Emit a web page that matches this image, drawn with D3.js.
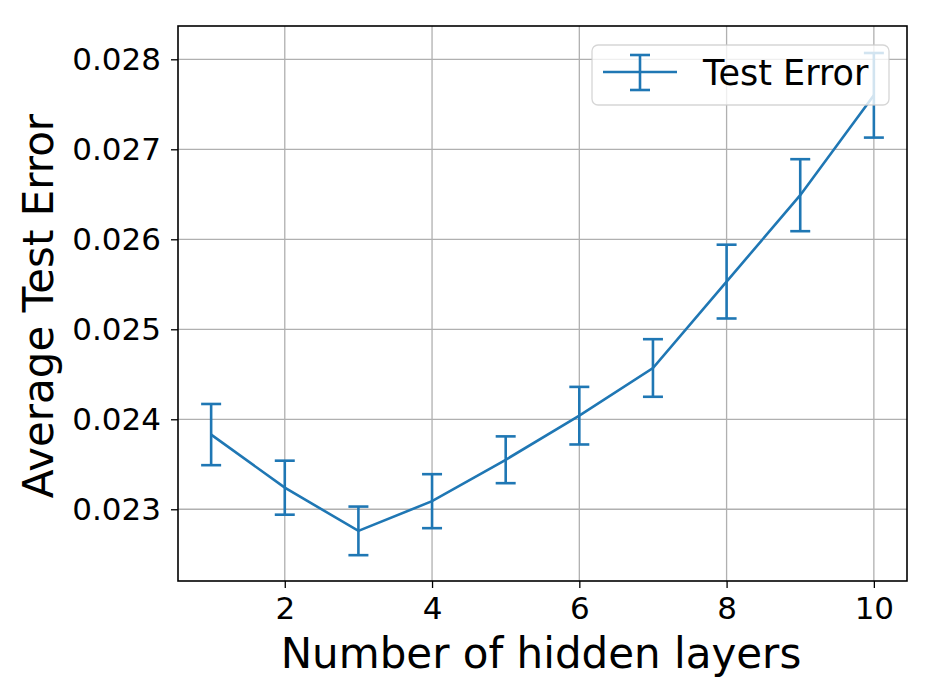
<!DOCTYPE html>
<html>
<head>
<meta charset="utf-8">
<script src="https://cdn.jsdelivr.net/npm/d3@7"></script>
<style>
  body { margin: 0; background: #fff; }
  text { font-family: "DejaVu Sans", sans-serif; }
</style>
</head>
<body>
<script>
'use strict';
const layers = [1, 2, 3, 4, 5, 6, 7, 8, 9, 10];
const testError = [0.02383, 0.02324, 0.02276, 0.02309, 0.02355, 0.02404, 0.02457, 0.02553, 0.02649, 0.02760];
const errSize = [0.00034, 0.00030, 0.00027, 0.00030, 0.00026, 0.00032, 0.00032, 0.00041, 0.00040, 0.00047];
const xTicks = [2, 4, 6, 8, 10];
const yTicks = [0.023, 0.024, 0.025, 0.026, 0.027, 0.028];
const seriesName = "Test Error";

(function () {
  const W = 934, H = 700;
  const pLeft = 178, pRight = 907, pTop = 26, pBottom = 581;
  const blue = "#1f77b4";

  const svg = d3.select("body").append("svg")
    .attr("width", W)
    .attr("height", H);

  const x = d3.scaleLinear().domain([0.55, 10.45]).range([pLeft, pRight]);
  const y = d3.scaleLinear().domain([0.022203, 0.02837]).range([pBottom, pTop]);

  // grid
  svg.append("g").selectAll("line")
    .data(xTicks).enter().append("line")
    .attr("x1", d => x(d)).attr("x2", d => x(d))
    .attr("y1", pTop).attr("y2", pBottom)
    .attr("stroke", "#b0b0b0").attr("stroke-width", 1.3);
  svg.append("g").selectAll("line")
    .data(yTicks).enter().append("line")
    .attr("x1", pLeft).attr("x2", pRight)
    .attr("y1", d => y(d)).attr("y2", d => y(d))
    .attr("stroke", "#b0b0b0").attr("stroke-width", 1.3);

  // axes
  const xAxis = d3.axisBottom(x).tickValues(xTicks).tickSize(7).tickPadding(9).tickFormat(d3.format("d"));
  svg.append("g")
    .attr("transform", "translate(0," + pBottom + ")")
    .call(xAxis)
    .call(g => g.select(".domain").remove())
    .call(g => g.selectAll("line").attr("stroke-width", 1.3))
    .call(g => g.selectAll("text").style("font-size", "31px").attr("fill", "#000").style("font-family", "DejaVu Sans"));

  const yAxis = d3.axisLeft(y).tickValues(yTicks).tickSize(7).tickPadding(10).tickFormat(d3.format(".3f"));
  svg.append("g")
    .attr("transform", "translate(" + pLeft + ",0)")
    .call(yAxis)
    .call(g => g.select(".domain").remove())
    .call(g => g.selectAll("line").attr("stroke-width", 1.3))
    .call(g => g.selectAll("text").style("font-size", "31px").attr("fill", "#000").style("font-family", "DejaVu Sans"));

  // frame
  svg.append("rect")
    .attr("x", pLeft).attr("y", pTop)
    .attr("width", pRight - pLeft).attr("height", pBottom - pTop)
    .attr("fill", "none").attr("stroke", "#000").attr("stroke-width", 1.6);

  // data line
  const line = d3.line()
    .x((d, i) => x(layers[i]))
    .y(d => y(d));
  svg.append("path")
    .datum(testError)
    .attr("fill", "none")
    .attr("stroke", blue)
    .attr("stroke-width", 2.6)
    .attr("d", line);

  // error bars
  const bars = svg.append("g").selectAll("g")
    .data(layers).enter().append("g");
  bars.append("line")
    .attr("x1", d => x(d)).attr("x2", d => x(d))
    .attr("y1", (d, i) => y(testError[i] - errSize[i]))
    .attr("y2", (d, i) => y(testError[i] + errSize[i]))
    .attr("stroke", blue).attr("stroke-width", 2.6);
  bars.append("line")
    .attr("x1", d => x(d) - 10).attr("x2", d => x(d) + 10)
    .attr("y1", (d, i) => y(testError[i] + errSize[i]))
    .attr("y2", (d, i) => y(testError[i] + errSize[i]))
    .attr("stroke", blue).attr("stroke-width", 2.6);
  bars.append("line")
    .attr("x1", d => x(d) - 10).attr("x2", d => x(d) + 10)
    .attr("y1", (d, i) => y(testError[i] - errSize[i]))
    .attr("y2", (d, i) => y(testError[i] - errSize[i]))
    .attr("stroke", blue).attr("stroke-width", 2.6);

  // legend
  const lg = svg.append("g").attr("transform", "translate(592,45)");
  lg.append("rect")
    .attr("width", 297).attr("height", 60)
    .attr("rx", 6).attr("ry", 6)
    .attr("fill", "#fff").attr("fill-opacity", 0.8)
    .attr("stroke", "#cccccc").attr("stroke-opacity", 0.8).attr("stroke-width", 1.3);
  lg.append("line")
    .attr("x1", 11).attr("x2", 85).attr("y1", 27).attr("y2", 27)
    .attr("stroke", blue).attr("stroke-width", 2.6);
  lg.append("line")
    .attr("x1", 48).attr("x2", 48).attr("y1", 10).attr("y2", 45)
    .attr("stroke", blue).attr("stroke-width", 2.6);
  lg.append("line")
    .attr("x1", 38).attr("x2", 58).attr("y1", 10).attr("y2", 10)
    .attr("stroke", blue).attr("stroke-width", 2.6);
  lg.append("line")
    .attr("x1", 38).attr("x2", 58).attr("y1", 45).attr("y2", 45)
    .attr("stroke", blue).attr("stroke-width", 2.6);
  lg.append("text")
    .attr("x", 111).attr("y", 40)
    .style("font-size", "35px")
    .text(seriesName);

  // axis labels
  svg.append("text")
    .attr("x", 541).attr("y", 668)
    .attr("text-anchor", "middle")
    .style("font-size", "42px")
    .text("Number of hidden layers");
  svg.append("text")
    .attr("transform", "translate(53,306)rotate(-90)")
    .attr("text-anchor", "middle")
    .style("font-size", "42px")
    .text("Average Test Error");
})();
</script>
</body>
</html>
